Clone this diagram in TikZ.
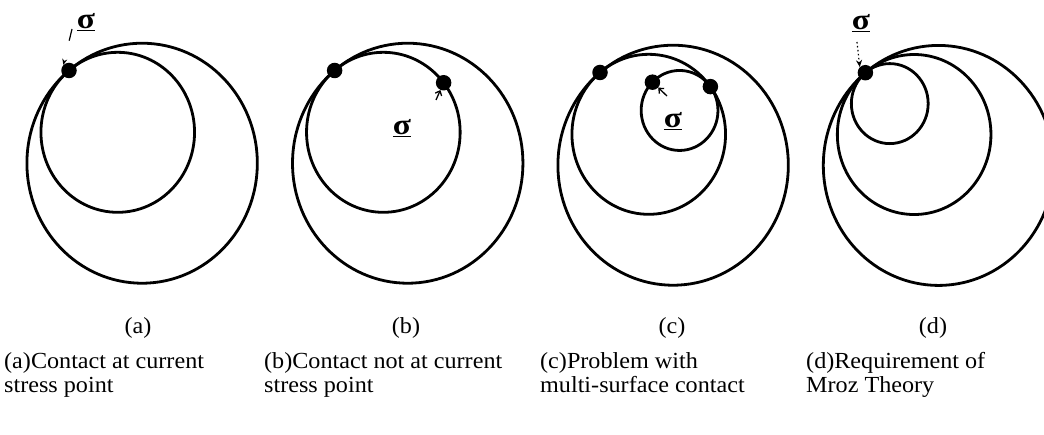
\documentclass[tikz,border=0pt]{standalone}
\usepackage{fontspec}
\setmainfont{Liberation Serif}
\usetikzlibrary{arrows.meta,calc}
\begin{document}
\begin{tikzpicture}[x=1pt,y=-1pt,
  ring/.style={line width=2.8pt},
  stressdot/.style={circle,fill=black,draw=none,inner sep=0pt,minimum size=15.5pt},
  sig/.style={inner sep=0pt,font=\fontsize{29}{29}\selectfont\bfseries},
  lab/.style={inner sep=0pt,font=\fontsize{23}{23}\selectfont},
  captext/.style={inner sep=0pt,anchor=north west,align=left,font=\fontsize{23}{24.5}\selectfont},
  dasharrow/.style={line width=1.2pt,dash pattern=on 12pt off 40pt,-{Stealth[length=6pt,width=5pt]}},
  dotarrow/.style={line width=1.2pt,dash pattern=on 1.5pt off 2.5pt,-{Stealth[length=7pt,width=6pt]}},
  barb/.style={line width=1.3pt,-{Straight Barb[length=4pt,width=7pt]}}]
\useasboundingbox (0,0) rectangle (1044,435);
\clip (0,0) rectangle (1044,435);
\def\sg{\underline{\scalebox{1.15}[1]{σ}}}
\newcommand{\wide}[1]{\scalebox{1.05}[1]{#1}}

% ---------- (a)
\begin{scope}[shift={(69,70.5)},xscale=0.96]
  \draw[ring] (50.6:120) circle[radius=120];
  \draw[ring] (50.6:80) circle[radius=80];
  \node[stressdot] (a-p) at (0,0) {};
\end{scope}
\node[sig] (a-s) at (86,22) {\sg};
\coordinate (a-q) at (72,29);
\draw[dasharrow] (a-q) -- (a-p.north west);

% ---------- (b)
\begin{scope}[shift={(334.6,70.5)},xscale=0.96]
  \draw[ring] (50.6:120) circle[radius=120];
  \draw[ring] (50.6:80) circle[radius=80];
  \node[stressdot] (b-p1) at (0,0) {};
  \node[stressdot] (b-p2) at ($(50.6:80)+(-38.3:80)$) {};
\end{scope}
\node[sig] (b-s) at (402,128) {\sg};
\coordinate (b-q) at (436,100);
\draw[barb] (b-q) -- (b-p2);

% ---------- (c)
\begin{scope}[shift={(600,72.5)},xscale=0.96]
  \draw[ring] (50.6:120) circle[radius=120];
  \draw[ring] (50.6:80) circle[radius=80];
  \draw[ring] ($(50.6:80)+(-36.6:40)$) circle[radius=40];
  \node[stressdot] (c-p1) at (0,0) {};
  \node[stressdot] (c-p3) at ($(50.6:80)+(-36.6:80)$) {};
  \node[stressdot] (c-p2) at ($(50.6:80)+(-36.6:40)+(225:40)$) {};
\end{scope}
\node[sig] (c-s) at (673,121) {\sg};
\coordinate (c-q) at (667,96);
\draw[barb] (c-q) -- (c-p2);

% ---------- (d)
\begin{scope}[shift={(865.4,72.7)},xscale=0.96]
  \draw[ring] (50.6:120) circle[radius=120];
  \draw[ring] (50.6:80) circle[radius=80];
  \draw[ring] (50.6:40) circle[radius=40];
  \node[stressdot] (d-p) at (0,0) {};
\end{scope}
\node[sig] (d-s) at (861,23) {\sg};
\coordinate (d-q) at (857,42);
\draw[dotarrow] (d-q) -- (d-p.north west);

% ---------- labels
\node[lab] (la) at (138,328) {\wide{(a)}};
\node[lab] (lb) at (406,328) {\wide{(b)}};
\node[lab] (lc) at (672,328) {\wide{(c)}};
\node[lab] (ld) at (933,328) {\wide{(d)}};

\node[captext] (ca) at (4,352) {\wide{(a)Contact at current}\\\wide{stress point}};
\node[captext] (cb) at (264,352) {\wide{(b)Contact not at current}\\\wide{stress point}};
\node[captext] (cc) at (540,352) {\wide{(c)Problem with}\\\wide{multi-surface contact}};
\node[captext] (cd) at (806,352) {\wide{(d)Requirement of}\\\wide{Mroz Theory}};
\end{tikzpicture}
\end{document}
